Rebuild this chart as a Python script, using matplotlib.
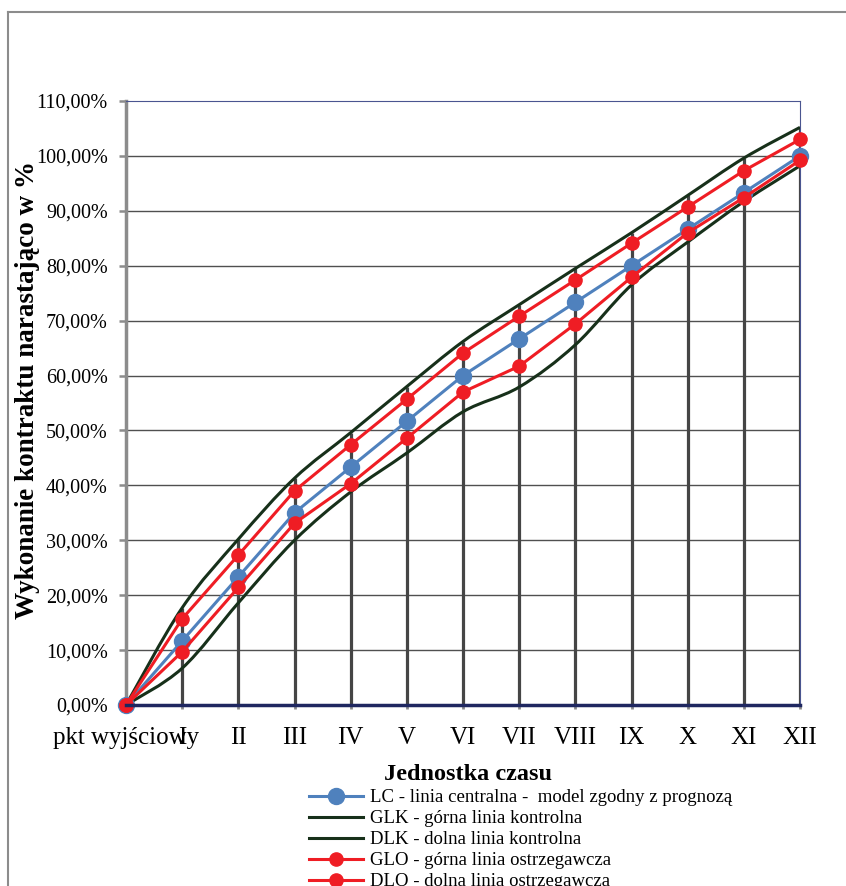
import matplotlib
matplotlib.use("Agg")
from matplotlib import pyplot as plt
from matplotlib.path import Path
from matplotlib.patches import PathPatch
from matplotlib.lines import Line2D
from matplotlib.ticker import FuncFormatter

# categories on the x axis
labels = ['pkt wyjściowy', 'I', 'II', 'III', 'IV', 'V', 'VI',
          'VII', 'VIII', 'IX', 'X', 'XI', 'XII']

# series values in percent
lc = [0, 11.67, 23.33, 35.0, 43.33, 51.67, 60.0, 66.67, 73.33, 80.0, 86.67, 93.33, 100.0]
glo = [0, 15.7, 27.3, 39.0, 47.4, 55.7, 64.1, 70.8, 77.4, 84.1, 90.7, 97.3, 103.0]
dlo = [0, 9.7, 21.4, 33.1, 40.3, 48.6, 57.0, 61.7, 69.4, 77.9, 86.0, 92.4, 99.2]
glk = [0, 17.7, 30.2, 41.3, 49.6, 58.0, 66.2, 72.9, 79.5, 86.0, 92.8, 99.6, 105.2]
dlk = [0, 6.7, 18.6, 30.0, 38.8, 45.9, 53.4, 57.9, 65.6, 76.5, 84.3, 91.7, 98.2]

plt.rcParams['font.family'] = ['Liberation Serif', 'DejaVu Serif']

BLUE = '#4f81bd'
RED = '#ef1d24'
DGREEN = '#17301a'


def smooth_path(xs, ys):
    # excel-like smoothed line: bezier segments through the points
    n = len(xs)
    verts = [(xs[0], ys[0])]
    codes = [Path.MOVETO]
    for i in range(n - 1):
        i0 = max(i - 1, 0)
        i3 = min(i + 2, n - 1)
        c1 = (xs[i] + (xs[i + 1] - xs[i0]) / 6, ys[i] + (ys[i + 1] - ys[i0]) / 6)
        c2 = (xs[i + 1] - (xs[i3] - xs[i]) / 6, ys[i + 1] - (ys[i3] - ys[i]) / 6)
        verts += [c1, c2, (xs[i + 1], ys[i + 1])]
        codes += [Path.CURVE4] * 3
    return Path(verts, codes)


fig = plt.figure(figsize=(8.46, 8.86), dpi=100)
ax = fig.add_axes([126 / 846, 1 - 705 / 886, 674 / 846, 604 / 886])

x = list(range(len(labels)))

ax.set_xlim(0, 12)
ax.set_ylim(0, 110)
ax.set_yticks(range(0, 111, 10))
ax.yaxis.set_major_formatter(FuncFormatter(lambda v, p: f"{v:.2f}%".replace('.', ',')))
ax.set_xticks(x)
ax.set_xticklabels(labels)

for yv in range(10, 101, 10):
    ax.axhline(yv, color='#505050', lw=1.0, zorder=1)

# drop lines
ax.vlines(x, 0, glk, color='#454545', lw=2.3, zorder=2)

ax.add_patch(PathPatch(smooth_path(x, glk), fill=False, edgecolor=DGREEN, lw=2.2, zorder=3))
ax.add_patch(PathPatch(smooth_path(x, dlk), fill=False, edgecolor=DGREEN, lw=2.2, zorder=3))

ax.plot(x, lc, color=BLUE, lw=2.2, marker='o', ms=11.5, zorder=4, clip_on=False)
ax.plot(x, glo, color=RED, lw=2.2, marker='o', ms=9.5, zorder=5, clip_on=False)
ax.plot(x, dlo, color=RED, lw=2.2, marker='o', ms=9.5, zorder=5, clip_on=False)

for s in ('top', 'right'):
    ax.spines[s].set_color('#4a5590')
    ax.spines[s].set_linewidth(0.8)
ax.spines['left'].set_color('#8c8c8c')
ax.spines['left'].set_linewidth(2.5)
ax.spines['bottom'].set_color('#1f2760')
ax.spines['bottom'].set_linewidth(2.5)
ax.spines['bottom'].set_zorder(6)

ax.tick_params(axis='y', direction='out', length=5, width=1.8, color='#8c8c8c',
               pad=8, labelsize=14.5)
ax.tick_params(axis='x', direction='out', length=3, width=2, color='#8c8c8c',
               pad=13, labelsize=18)

fig.text(28 / 846, 1 - 390 / 886, 'Wykonanie kontraktu narastająco w %',
         rotation=90, ha='center', va='center', fontsize=19.5, fontweight='bold')
fig.text(468 / 846, 1 - 775 / 886, 'Jednostka czasu',
         ha='center', va='center', fontsize=17.5, fontweight='bold')

handles = [
    Line2D([], [], color=BLUE, lw=2.2, marker='o', ms=11.5),
    Line2D([], [], color=DGREEN, lw=2.2),
    Line2D([], [], color=DGREEN, lw=2.2),
    Line2D([], [], color=RED, lw=2.2, marker='o', ms=9.5),
    Line2D([], [], color=RED, lw=2.2, marker='o', ms=9.5),
]
names = [
    'LC - linia centralna -  model zgodny z prognozą',
    'GLK - górna linia kontrolna',
    'DLK - dolna linia kontrolna',
    'GLO - górna linia ostrzegawcza',
    'DLO - dolna linia ostrzegawcza',
]
fig.legend(handles, names, loc='upper left', bbox_to_anchor=(309 / 846, 1 - 789 / 886),
           frameon=False, fontsize=13.5, handlelength=2.9, handletextpad=0.35,
           labelspacing=0.21, borderpad=0, borderaxespad=0)

# outer chart border
fig.add_artist(Line2D([8 / 846, 8 / 846], [0, 1 - 12 / 886], color='#8c8c8c', lw=1.5))
fig.add_artist(Line2D([8 / 846, 1], [1 - 12 / 886, 1 - 12 / 886], color='#8c8c8c', lw=1.5))

fig.savefig('out.png', dpi=100)
